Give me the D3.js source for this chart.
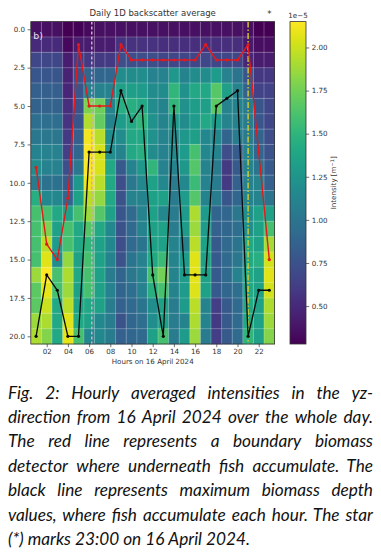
<!DOCTYPE html>
<html><head><meta charset="utf-8">
<script src="https://cdn.jsdelivr.net/npm/d3@7"></script>
<style>body{margin:0;background:#fff}svg{display:block}</style>
</head><body><svg id="c" width="381" height="560"></svg>
<script>
// ---------- data ----------
const hours = d3.range(1, 24);            // 01 .. 23
const depths = d3.range(0, 21);           // 0 .. 20
// hourly averaged intensity (x 1e-5 m^-1), one row per depth, one value per hour
const intensity = [
 [0.36,0.36,0.36,0.28,0.29,0.33,0.36,0.36,0.36,0.36,0.36,0.36,0.36,0.36,0.36,0.36,0.36,0.36,0.36,0.36,0.36,0.28,0.28],
 [0.50,0.50,0.50,0.32,0.42,0.42,0.42,0.42,0.55,0.55,0.55,0.55,0.53,0.53,0.53,0.53,0.53,0.53,0.53,0.53,0.40,0.35,0.35],
 [0.68,0.68,0.68,0.43,0.62,0.60,0.60,0.60,0.72,0.72,0.72,0.72,0.68,0.68,0.68,0.68,0.68,0.68,0.68,0.68,0.47,0.42,0.42],
 [0.78,0.78,0.78,0.46,0.75,0.90,0.90,0.90,1.18,1.18,1.20,1.10,1.10,1.27,1.12,1.18,1.18,1.30,1.10,1.00,0.77,0.58,0.58],
 [0.84,0.84,0.84,0.47,0.77,1.10,1.10,1.10,1.33,1.33,1.30,1.18,1.18,1.50,1.22,1.40,1.40,1.66,1.33,1.12,0.85,0.65,0.65],
 [0.87,0.87,0.87,0.53,0.75,1.78,1.73,1.12,1.45,1.45,1.40,1.18,1.12,1.50,1.22,1.31,1.33,1.68,1.12,1.12,1.05,0.78,0.68],
 [0.95,0.95,0.95,0.56,0.78,1.93,1.70,1.12,1.30,1.40,1.50,1.22,1.12,1.30,1.18,1.30,1.40,1.30,1.12,1.12,1.05,0.78,0.68],
 [1.02,1.02,1.02,0.60,0.84,2.12,1.95,1.20,1.18,1.40,1.40,1.22,1.12,1.18,1.28,1.33,1.15,1.15,0.88,1.05,1.05,0.88,0.72],
 [1.10,1.10,1.10,0.62,0.90,2.14,2.03,1.20,1.12,1.40,1.45,1.18,1.10,1.18,1.30,1.60,1.15,1.12,0.72,0.82,1.12,0.90,0.75],
 [1.18,1.10,1.10,0.72,1.02,2.14,2.04,1.40,0.80,1.12,1.28,1.50,1.10,1.12,1.28,1.65,1.12,1.05,0.60,0.80,1.12,1.00,0.80],
 [1.05,0.98,0.98,0.80,1.28,2.10,1.95,1.40,0.72,1.02,1.15,1.35,1.15,1.05,1.15,1.55,1.10,1.05,0.60,0.85,1.10,1.12,0.85],
 [1.45,1.15,1.15,0.88,1.35,1.95,1.85,1.40,0.75,1.10,1.12,1.35,1.35,1.05,1.30,1.65,1.12,1.05,0.78,0.90,1.12,1.12,1.00],
 [1.60,1.60,1.40,1.35,1.60,1.87,1.65,1.35,0.78,0.92,1.12,1.35,1.15,1.05,1.30,1.92,1.30,0.88,0.90,1.02,1.20,1.35,1.35],
 [1.60,1.78,1.35,1.60,1.40,1.65,1.40,1.15,0.75,0.92,1.12,1.35,1.35,1.05,1.30,1.87,1.30,0.85,0.90,0.95,1.20,1.35,1.60],
 [1.60,1.96,1.30,1.60,1.40,1.50,1.35,1.15,0.72,0.92,1.00,1.35,1.35,1.12,1.12,1.96,1.35,0.80,0.92,1.00,1.40,1.35,1.90],
 [1.60,2.06,1.20,1.85,1.35,1.60,1.35,1.12,0.75,1.00,1.10,1.40,1.55,1.12,1.30,2.06,1.35,0.80,0.92,1.02,1.40,1.45,2.02],
 [1.87,2.15,1.60,1.92,1.40,1.60,1.35,1.05,0.88,1.02,1.10,1.60,1.75,1.12,1.30,2.07,1.35,0.80,0.92,1.10,1.40,1.35,2.06],
 [1.68,2.08,1.60,1.87,1.35,1.60,1.35,1.10,0.88,0.95,1.10,1.45,1.60,1.12,1.30,2.05,1.35,0.80,0.90,0.95,1.40,1.35,2.02],
 [1.68,2.00,1.40,1.96,1.35,1.40,1.35,1.05,0.85,0.92,1.00,1.20,1.35,1.05,1.30,1.96,1.12,0.62,0.80,0.92,1.40,1.35,1.92],
 [1.87,1.92,1.40,2.06,1.40,1.35,1.15,1.05,0.75,0.90,0.95,1.20,1.35,1.05,1.12,1.92,1.12,0.60,0.80,0.92,1.40,1.35,1.87],
 [1.92,1.80,1.40,2.08,1.60,1.15,1.15,1.05,0.85,0.90,0.92,1.35,1.60,1.05,1.30,1.87,1.05,0.62,0.80,0.92,1.50,1.35,1.80]
];
// boundary biomass detector (red) and maximum biomass depth (black), per hour
const boundaryDepth   = [9,14,15,11,1,5,5,5,1,2,2,2,2,2,2,2,1,2,2,2,1,8,15];
const maxBiomassDepth = [20,16,17,20,20,8,8,8,4,6,5,16,20,5,16,16,16,5,4.5,4,20,17,17];
const xTicks = [2,4,6,8,10,12,14,16,18,20,22];
const yTicks = [0,2.5,5,7.5,10,12.5,15,17.5,20];
const cbTicks = [0.5,0.75,1.0,1.25,1.5,1.75,2.0];
const sunriseHour = 6.25, sunsetHour = 21.0, starHour = 23;
const captionLines = [
 "Fig. 2: Hourly averaged intensities in the yz-",
 "direction from 16 April 2024 over the whole day.",
 "The red line represents a boundary biomass",
 "detector where underneath fish accumulate. The",
 "black line represents maximum biomass depth",
 "values, where fish accumulate each hour. The star",
 "(*) marks 23:00 on 16 April 2024."
];

// ---------- layout ----------
const svg = d3.select("#c");
const L = 30.8, R = 274.6, T = 21.6, B = 344;
const x = d3.scaleLinear().domain([0.5, 23.5]).range([L, R]);
const y = d3.scaleLinear().domain([-0.5, 20.5]).range([T, B]);
const cmin = 0.28, cmax = 2.15;
const color = d3.scaleSequential(d3.interpolateViridis).domain([cmin, cmax]);
const tickFont = "DejaVu Sans, sans-serif";

// heatmap cells
const cells = [];
depths.forEach((d, i) => hours.forEach((h, j) => cells.push({h, d, v: intensity[i][j]})));
svg.append("g").selectAll("rect").data(cells).join("rect")
  .attr("x", c => x(c.h - 0.5)).attr("y", c => y(c.d - 0.5))
  .attr("width", c => x(c.h + 0.5) - x(c.h - 0.5) + 0.3)
  .attr("height", c => y(c.d + 0.5) - y(c.d - 0.5) + 0.3)
  .attr("fill", c => color(c.v));

// grid
const grid = svg.append("g").attr("stroke", "#fff").attr("stroke-opacity", 0.28).attr("stroke-width", 0.9);
hours.slice(0, -1).forEach(h => grid.append("line").attr("x1", x(h + 0.5)).attr("x2", x(h + 0.5)).attr("y1", T).attr("y2", B));
depths.slice(0, -1).forEach(d => grid.append("line").attr("y1", y(d + 0.5)).attr("y2", y(d + 0.5)).attr("x1", L).attr("x2", R));

// sunrise / sunset lines
svg.append("line").attr("x1", x(sunriseHour)).attr("x2", x(sunriseHour)).attr("y1", T).attr("y2", B)
  .attr("stroke", "#dc9ee0").attr("stroke-width", 1.5).attr("stroke-dasharray", "3,2");
svg.append("line").attr("x1", x(sunsetHour)).attr("x2", x(sunsetHour)).attr("y1", T).attr("y2", B)
  .attr("stroke", "#d8cc2c").attr("stroke-width", 1.4).attr("stroke-dasharray", "6,2,1.5,2");

// lines
function drawSeries(vals, col, w) {
  const pts = hours.map((h, i) => [h, vals[i]]);
  svg.append("path").datum(pts)
    .attr("d", d3.line().x(p => x(p[0])).y(p => y(p[1])))
    .attr("fill", "none").attr("stroke", col).attr("stroke-width", w).attr("stroke-linejoin", "round");
  svg.append("g").selectAll("circle").data(pts).join("circle")
    .attr("cx", p => x(p[0])).attr("cy", p => y(p[1])).attr("r", 1.6).attr("fill", col);
}
drawSeries(boundaryDepth, "#e31a1c", 1.4);
drawSeries(maxBiomassDepth, "#0a0a0a", 1.3);

// frame
svg.append("rect").attr("x", L).attr("y", T).attr("width", R - L).attr("height", B - T)
  .attr("fill", "none").attr("stroke", "#333").attr("stroke-width", 0.8);

// axes
const yAx = svg.append("g").attr("transform", `translate(${L},0)`)
  .call(d3.axisLeft(y).tickValues(yTicks).tickFormat(d3.format(".1f")).tickSize(3.2).tickPadding(2.5));
const xAx = svg.append("g").attr("transform", `translate(0,${B})`)
  .call(d3.axisBottom(x).tickValues(xTicks).tickFormat(d => String(d).padStart(2, "0")).tickSize(3.2).tickPadding(2));
[yAx, xAx].forEach(a => {
  a.select(".domain").remove();
  a.selectAll("line").attr("stroke", "#333").attr("stroke-width", 0.7);
  a.selectAll("text").attr("font-family", tickFont).attr("font-size", 7.1).attr("fill", "#333");
});

svg.append("text").attr("x", (L + R) / 2).attr("y", 364).attr("text-anchor", "middle")
  .attr("font-family", tickFont).attr("font-size", 7.1).attr("fill", "#333").text("Hours on 16 April 2024");
svg.append("text").attr("x", (L + R) / 2).attr("y", 16).attr("text-anchor", "middle")
  .attr("font-family", tickFont).attr("font-size", 8.5).attr("fill", "#333").text("Daily 1D backscatter average");
svg.append("text").attr("x", x(starHour)).attr("y", 17).attr("text-anchor", "middle")
  .attr("font-family", tickFont).attr("font-size", 8.5).attr("fill", "#333").text("*");
svg.append("text").attr("x", 33.3).attr("y", 38.5)
  .attr("font-family", tickFont).attr("font-size", 9.4).attr("fill", "#e6def0").text("b)");

// colorbar
const cbX = 290, cbW = 16;
const cy = d3.scaleLinear().domain([cmin, cmax]).range([B, T]);
const grad = svg.append("defs").append("linearGradient").attr("id", "vir")
  .attr("x1", 0).attr("y1", 1).attr("x2", 0).attr("y2", 0);
d3.range(0, 1.0001, 0.02).forEach(t => grad.append("stop").attr("offset", t).attr("stop-color", d3.interpolateViridis(t)));
svg.append("rect").attr("x", cbX).attr("y", T).attr("width", cbW).attr("height", B - T)
  .attr("fill", "url(#vir)").attr("stroke", "#333").attr("stroke-width", 0.8);
const cAx = svg.append("g").attr("transform", `translate(${cbX + cbW},0)`)
  .call(d3.axisRight(cy).tickValues(cbTicks).tickFormat(d3.format(".2f")).tickSize(3.2).tickPadding(2.5));
cAx.select(".domain").remove();
cAx.selectAll("line").attr("stroke", "#333").attr("stroke-width", 0.7);
cAx.selectAll("text").attr("font-family", tickFont).attr("font-size", 7.1).attr("fill", "#333");
svg.append("text").attr("x", cbX + cbW / 2).attr("y", 18).attr("text-anchor", "middle")
  .attr("font-family", tickFont).attr("font-size", 7.1).attr("fill", "#333").text("1e\u22125");
const cl = svg.append("text").attr("transform", `translate(336,${(T + B) / 2}) rotate(-90)`).attr("text-anchor", "middle")
  .attr("font-family", tickFont).attr("font-size", 7.1).attr("fill", "#333");
cl.append("tspan").text("Intensity [m");
cl.append("tspan").attr("dy", -2.5).attr("font-size", 5).text("\u22121");
cl.append("tspan").attr("dy", 2.5).text("]");

// caption (justified)
const capX0 = 8, capX1 = 373, capY0 = 398.5, capDY = 24.45;
const capFont = "Lato, 'Open Sans', sans-serif";
// fit font size: last line ~242px wide, no line wider than the column
const probe = svg.append("text").attr("font-family", capFont).attr("font-style", "italic").attr("font-size", 16);
const natW = captionLines.map(l => { probe.text(l); return probe.node().getComputedTextLength(); });
probe.remove();
let capSize = 16 * 242 / natW[natW.length - 1];
const maxW = d3.max(natW) * capSize / 16;
if (maxW > (capX1 - capX0) * 0.995) capSize *= (capX1 - capX0) * 0.995 / maxW;
captionLines.forEach((line, li) => {
  const t = svg.append("text").attr("y", capY0 + li * capDY)
    .attr("font-family", capFont).attr("font-style", "italic").attr("font-size", capSize).attr("fill", "#111");
  const words = line.split(" ");
  const spans = words.map(w => t.append("tspan").text(w));
  const widths = spans.map(s => s.node().getComputedTextLength());
  const last = li === captionLines.length - 1;
  const total = d3.sum(widths);
  const gap = last ? capSize * 0.23 : (capX1 - capX0 - total) / (words.length - 1);
  let cx = capX0;
  spans.forEach((s, i) => { s.attr("x", cx); cx += widths[i] + gap; });
});
</script></body></html>
